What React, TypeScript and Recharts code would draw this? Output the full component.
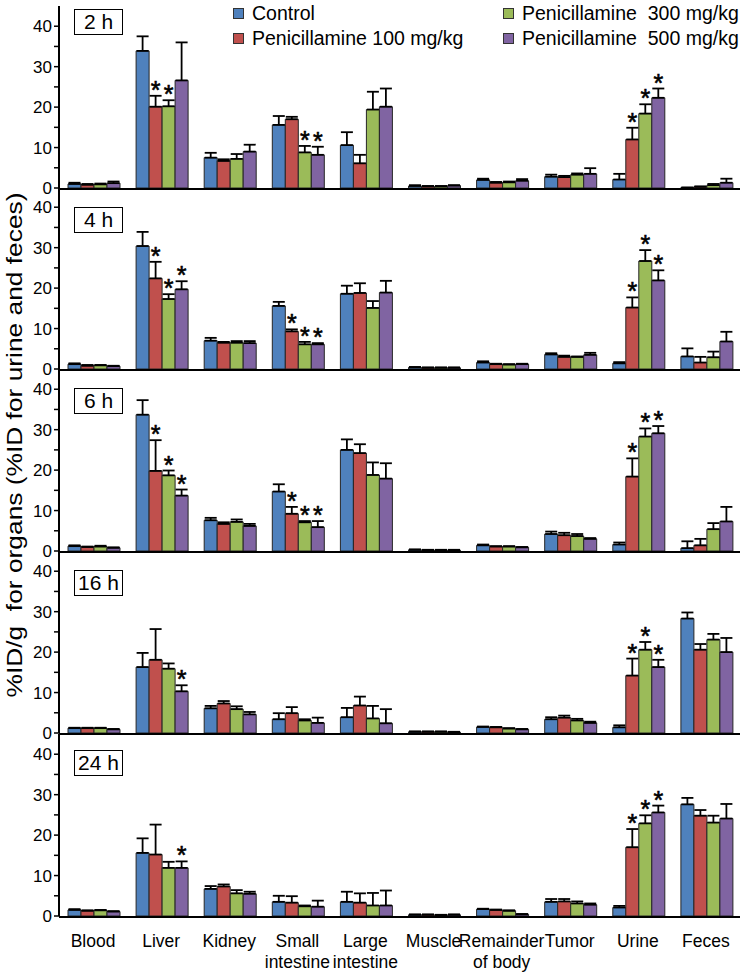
import React from 'react';
import { BarChart, Bar, XAxis, YAxis, ErrorBar, LabelList, Legend } from 'recharts';

const FONT = '"Liberation Sans", Arial, Helvetica, sans-serif';

const categories = ['Blood', 'Liver', 'Kidney', 'Small\nintestine', 'Large\nintestine', 'Muscle', 'Remainder\nof body', 'Tumor', 'Urine', 'Feces'];
const seriesNames = ['Control', 'Penicillamine 100 mg/kg', 'Penicillamine  300 mg/kg', 'Penicillamine  500 mg/kg'];
const seriesColors = ['#4F81BD', '#C0504D', '#9BBB59', '#8064A2'];
const timeLabels = ['2 h', '4 h', '6 h', '16 h', '24 h'];
const yTicks = [0, 5, 10, 15, 20, 25, 30, 35, 40];
const edgeTicks = [0, 1, 2, 3, 4, 5, 6, 7, 8, 9, 10];

// ---- 2 h ----
const ctl2 = [1.0, 33.9, 7.5, 15.6, 10.6, 0.5, 2.0, 2.8, 2.1, 0.1];
const ctl2Err = [0.3, 3.6, 1.2, 2.2, 3.2, 0.2, 0.3, 0.5, 1.4, 0];
const p100_2 = [0.8, 20.1, 6.7, 17.0, 6.1, 0.4, 1.3, 2.7, 12.0, 0.3];
const p100_2Err = [0.2, 2.7, 0.4, 0.6, 2.1, 0.1, 0.2, 0.3, 2.9, 0.1];
const p300_2 = [0.9, 20.2, 7.2, 8.8, 19.4, 0.4, 1.4, 3.3, 18.4, 0.7];
const p300_2Err = [0.2, 1.5, 1.2, 1.6, 4.4, 0.1, 0.2, 0.3, 2.3, 0.3];
const p500_2 = [1.2, 26.6, 9.0, 8.2, 20.1, 0.6, 1.8, 3.5, 22.3, 1.3];
const p500_2Err = [0.4, 9.4, 1.7, 2.0, 4.5, 0.1, 0.4, 1.4, 2.3, 1.0];
const sig2 = [[], [1, 8], [1, 3, 8], [3, 8]];

// ---- 4 h ----
const ctl4 = [1.2, 30.4, 7.0, 15.6, 18.6, 0.4, 1.6, 3.6, 1.4, 3.1];
const ctl4Err = [0.2, 3.5, 0.7, 1.0, 2.0, 0.1, 0.3, 0.3, 0.3, 2.0];
const p100_4 = [0.8, 22.4, 6.5, 9.3, 18.8, 0.3, 1.2, 3.0, 15.2, 1.6];
const p100_4Err = [0.2, 4.1, 0.2, 0.5, 2.4, 0.1, 0.1, 0.3, 2.5, 1.4];
const p300_4 = [0.9, 17.3, 6.5, 6.1, 15.1, 0.3, 1.1, 3.0, 26.7, 2.9];
const p300_4Err = [0.1, 1.2, 0.4, 0.6, 1.7, 0.1, 0.1, 0.1, 2.7, 1.4];
const p500_4 = [0.7, 19.7, 6.4, 6.1, 18.9, 0.3, 1.2, 3.5, 21.9, 6.8];
const p500_4Err = [0.1, 2.0, 0.5, 0.3, 2.9, 0.1, 0.1, 0.5, 2.5, 2.4];
const sig4 = [[], [1, 3, 8], [1, 3, 8], [1, 3, 8]];

// ---- 6 h ----
const ctl6 = [1.2, 33.7, 7.6, 14.7, 25.0, 0.3, 1.4, 4.2, 1.6, 0.7];
const ctl6Err = [0.2, 3.6, 0.6, 1.8, 2.6, 0.1, 0.2, 0.6, 0.5, 1.7];
const p100_6 = [1.0, 19.8, 6.7, 9.2, 24.2, 0.2, 1.1, 3.9, 18.4, 1.4];
const p100_6Err = [0.1, 7.6, 0.4, 1.7, 2.2, 0.1, 0.1, 0.6, 4.5, 1.6];
const p300_6 = [1.1, 18.7, 7.2, 7.1, 18.8, 0.2, 1.1, 3.7, 28.3, 5.4];
const p300_6Err = [0.2, 1.2, 0.6, 0.3, 3.1, 0.1, 0.1, 0.5, 2.0, 1.5];
const p500_6 = [0.8, 13.7, 6.2, 5.9, 17.9, 0.2, 0.9, 3.0, 29.1, 7.3];
const p500_6Err = [0.1, 1.5, 0.5, 1.5, 3.8, 0.1, 0.1, 0.2, 1.8, 3.6];
const sig6 = [[], [1, 3, 8], [1, 3, 8], [1, 3, 8]];

// ---- 16 h ----
const ctl16 = [1.2, 16.3, 6.1, 3.4, 3.9, 0.3, 1.5, 3.4, 1.4, 28.3];
const ctl16Err = [0.1, 3.5, 0.6, 1.5, 2.3, 0.1, 0.1, 0.5, 0.5, 1.5];
const p100_16 = [1.2, 18.1, 7.3, 4.9, 6.8, 0.3, 1.4, 3.8, 14.2, 20.6];
const p100_16Err = [0.1, 7.6, 0.6, 1.5, 2.2, 0.1, 0.1, 0.5, 4.2, 1.4];
const p300_16 = [1.2, 15.9, 5.9, 3.1, 3.6, 0.3, 1.1, 3.1, 20.6, 23.1];
const p300_16Err = [0.1, 1.3, 0.7, 0.3, 3.1, 0.1, 0.1, 0.4, 1.9, 1.4];
const p500_16 = [0.9, 10.3, 4.6, 2.5, 2.4, 0.2, 0.9, 2.5, 16.3, 20.0];
const p500_16Err = [0.1, 1.5, 0.6, 1.3, 3.5, 0.1, 0.1, 0.3, 1.8, 3.5];
const sig16 = [[], [8], [8], [1, 8]];

// ---- 24 h ----
const ctl24 = [1.5, 15.6, 6.7, 3.5, 3.5, 0.3, 1.7, 3.5, 2.1, 27.6];
const ctl24Err = [0.2, 3.6, 0.7, 1.5, 2.5, 0.1, 0.1, 0.7, 0.4, 1.6];
const p100_24 = [1.3, 15.2, 7.3, 3.3, 3.3, 0.3, 1.5, 3.6, 17.0, 24.8];
const p100_24Err = [0.1, 7.4, 0.5, 1.6, 2.3, 0.1, 0.1, 0.6, 4.5, 1.4];
const p300_24 = [1.4, 11.9, 5.6, 2.4, 2.6, 0.2, 1.3, 3.1, 22.9, 23.1];
const p300_24Err = [0.1, 1.5, 0.8, 0.2, 3.1, 0.1, 0.1, 0.5, 2.0, 1.7];
const p500_24 = [1.1, 11.9, 5.5, 2.3, 2.6, 0.3, 0.4, 2.8, 25.6, 24.1];
const p500_24Err = [0.1, 1.6, 0.5, 1.5, 3.7, 0.1, 0.1, 0.3, 1.7, 3.6];
const sig24 = [[], [8], [8], [1, 8]];

const panelValues = [
  [ctl2, p100_2, p300_2, p500_2],
  [ctl4, p100_4, p300_4, p500_4],
  [ctl6, p100_6, p300_6, p500_6],
  [ctl16, p100_16, p300_16, p500_16],
  [ctl24, p100_24, p300_24, p500_24],
];
const panelErrors = [
  [ctl2Err, p100_2Err, p300_2Err, p500_2Err],
  [ctl4Err, p100_4Err, p300_4Err, p500_4Err],
  [ctl6Err, p100_6Err, p300_6Err, p500_6Err],
  [ctl16Err, p100_16Err, p300_16Err, p500_16Err],
  [ctl24Err, p100_24Err, p300_24Err, p500_24Err],
];
const panelSig = [sig2, sig4, sig6, sig16, sig24];

function buildRows(p: number) {
  return categories.map((name, i) => {
    const row: any = { name };
    for (let k = 0; k < 4; k++) {
      row[`s${k}`] = panelValues[p][k][i];
      row[`e${k}`] = [0, panelErrors[p][k][i]];
      row[`g${k}`] = panelSig[p][k].includes(i);
    }
    return row;
  });
}

// layout
const W = 747;
const PLOT_H = 182;
const PAD_TOP = 12;
const AXIS_H = 1;
const zeroYs = [188, 369, 551, 733, 916];
const boxTops = [9, 207, 388, 570, 750];

const Star = (props: any) => {
  const vb = props.viewBox || props;
  const ratio = props.value;
  if (ratio == null || !isFinite(ratio)) return null;
  const { x, y, width, height } = vb;
  const top = y + height - height * ratio;
  return (
    <text
      x={x + width / 2}
      y={top + 3}
      textAnchor="middle"
      fontSize={25}
      fontFamily={FONT}
      fill="#000"
      stroke="#000"
      strokeWidth={0.6}
    >
      *
    </text>
  );
};

const CatTick = (props: any) => {
  const { x, y, payload } = props;
  const lines = String(payload.value).split('\n');
  return (
    <g>
      {lines.map((l, i) => (
        <text key={i} x={x} y={y + 31 + i * 21} textAnchor="middle" fontSize={17.5} fontFamily={FONT} fill="#000">
          {l}
        </text>
      ))}
    </g>
  );
};

const legendPos = [
  [233, 13],
  [233, 38],
  [503, 13],
  [503, 38],
];

const LegendContent = (props: any) => {
  const payload = props.payload || [];
  return (
    <div style={{ position: 'relative', width: W, height: 50 }}>
      {payload.map((entry: any, j: number) => {
        const i = Math.max(0, seriesNames.indexOf(entry.value));
        return (
          <div key={j}>
            <div
              style={{
                position: 'absolute',
                left: legendPos[i][0],
                top: legendPos[i][1] - 5.5,
                width: 11,
                height: 11,
                boxSizing: 'border-box',
                border: '1px solid #333',
                background: entry.color,
              }}
            />
            <span
              style={{
                position: 'absolute',
                left: legendPos[i][0] + 19,
                top: legendPos[i][1] - 10,
                lineHeight: '20px',
                fontSize: 19.5,
                fontFamily: FONT,
                color: '#000',
                whiteSpace: 'pre',
              }}
            >
              {entry.value}
            </span>
          </div>
        );
      })}
    </div>
  );
};

function Panel({ p }: { p: number }) {
  const rows = buildRows(p);
  const last = p === 4;
  const bottom = last ? 976 - zeroYs[p] : 12;
  const height = PAD_TOP + PLOT_H + bottom;
  const top = zeroYs[p] - PLOT_H - PAD_TOP;
  return (
    <div style={{ position: 'absolute', left: 0, top, width: W, height }}>
      <BarChart
        width={W}
        height={height}
        data={rows}
        margin={{ top: PAD_TOP, right: 7, bottom: bottom - 2 * AXIS_H, left: 0 }}
        barCategoryGap={9}
        barGap={0}
      >
        <XAxis
          xAxisId="edge"
          type="number"
          domain={[0, 10]}
          ticks={edgeTicks}
          allowDataOverflow
          height={AXIS_H}
          tick={false}
          tickSize={5}
          axisLine={{ stroke: '#000', strokeWidth: 2 }}
          tickLine={{ stroke: '#000', strokeWidth: 2 }}
        />
        <XAxis
          xAxisId="cat"
          dataKey="name"
          type="category"
          height={AXIS_H}
          axisLine={false}
          tickLine={false}
          tickSize={0}
          tickMargin={0}
          interval={0}
          tick={last ? <CatTick /> : false}
        />
        <YAxis
          domain={[0, 45]}
          ticks={yTicks}
          allowDataOverflow
          width={59}
          tickSize={5}
          tickMargin={2}
          interval={0}
          axisLine={{ stroke: '#000', strokeWidth: 2 }}
          tickLine={{ stroke: '#000', strokeWidth: 1.5 }}
          tickFormatter={(v: number) => (v % 10 === 0 ? String(v) : '')}
          tick={{ fontSize: 17, fill: '#000', fontFamily: FONT }}
        />
        {[0, 1, 2, 3].map((k) => (
          <Bar
            key={k}
            xAxisId="cat"
            dataKey={`s${k}`}
            name={seriesNames[k]}
            fill={seriesColors[k]}
            stroke="#262626"
            strokeWidth={1}
            isAnimationActive={false}
          >
            <ErrorBar dataKey={`e${k}`} width={6} stroke="#000" strokeWidth={1.8} direction="y" />
            <LabelList
              dataKey={(d: any) => (d[`g${k}`] ? (d[`s${k}`] + d[`e${k}`][1]) / d[`s${k}`] : undefined)}
              content={<Star />}
            />
          </Bar>
        ))}
        {p === 0 && (
          <Legend
            layout="vertical"
            align="center"
            verticalAlign="middle"
            wrapperStyle={{ top: -top, left: 0, width: W, height: 50 }}
            content={<LegendContent />}
          />
        )}
      </BarChart>
    </div>
  );
}

export default function App() {
  return (
    <div style={{ position: 'absolute', left: 0, top: 0, width: W, height: 976, background: '#fff' }}>
      {[0, 1, 2, 3, 4].map((p) => (
        <Panel key={p} p={p} />
      ))}
      {timeLabels.map((t, i) => (
        <div
          key={t}
          style={{
            position: 'absolute',
            left: 74,
            top: boxTops[i],
            width: 49,
            height: 26,
            boxSizing: 'border-box',
            border: '1px solid #000',
            background: '#fff',
            fontFamily: FONT,
            fontSize: 21,
            lineHeight: '24px',
            textAlign: 'center',
            color: '#000',
          }}
        >
          {t}
        </div>
      ))}
      <svg style={{ position: 'absolute', left: 0, top: 0 }} width={40} height={976}>
        <text
          transform="translate(22,445) rotate(-90)"
          textAnchor="middle"
          fontSize={22}
          fontFamily={FONT}
          fill="#000"
          textLength={505}
          lengthAdjust="spacingAndGlyphs"
          style={{ whiteSpace: 'pre' }}
        >
          {'%ID/g  for organs (%ID for urine and feces)'}
        </text>
      </svg>
    </div>
  );
}
